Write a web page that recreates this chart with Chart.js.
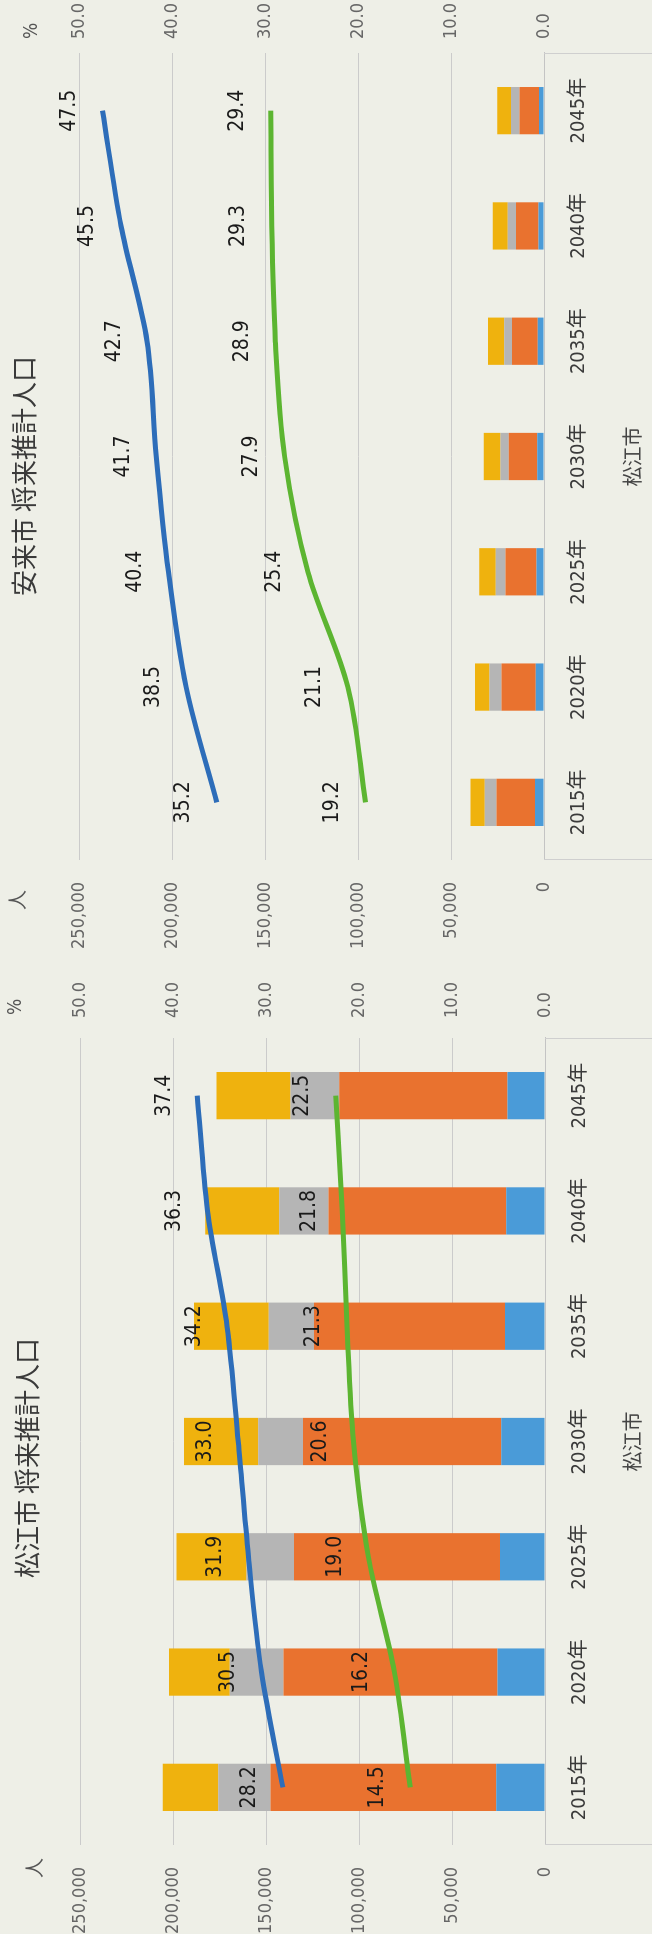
<!DOCTYPE html>
<html lang="ja">
<head>
<meta charset="utf-8">
<title>将来推計人口</title>
<script src="https://cdn.jsdelivr.net/npm/chart.js@4.4.1/dist/chart.umd.min.js"></script>
<style>
  html, body { margin: 0; padding: 0; background: #eeefe7; }
  body { width: 652px; height: 1934px; position: relative; overflow: hidden; }
  /* each chart is drawn landscape and turned a quarter to the left, like the scan */
  .panel { position: absolute; left: -158px; width: 968px; height: 652px; transform: rotate(-90deg); transform-origin: 50% 50%; }
  #panelYasugi { top: 158px; }
  #panelMatsue { top: 1125px; }
</style>
</head>
<body>
<div class="panel" id="panelYasugi"><canvas id="yasugiChart" width="968" height="652"></canvas></div>
<div class="panel" id="panelMatsue"><canvas id="matsueChart" width="968" height="652"></canvas></div>
<script>
// Categories
const years = ['2015年', '2020年', '2025年', '2030年', '2035年', '2040年', '2045年'];

// 安来市 (people)
const yasugiUnder15 = [4800, 4400, 4000, 3600, 3300, 3000, 2700];
const yasugi15to64 = [20800, 18400, 16700, 15300, 13900, 12000, 10500];
const yasugi65to74 = [6300, 6500, 5300, 4500, 4200, 4500, 4600];
const yasugi75over = [7600, 7800, 8800, 9000, 8700, 8100, 7400];
// 安来市 (%)
const yasugiRate65 = [35.2, 38.5, 40.4, 41.7, 42.7, 45.5, 47.5];
const yasugiRate75 = [19.2, 21.1, 25.4, 27.9, 28.9, 29.3, 29.4];

// 松江市 (people)
const matsueUnder15 = [26200, 25500, 24200, 23500, 21500, 20800, 20200];
const matsue15to64 = [121400, 115100, 110800, 106600, 102700, 95600, 90400];
const matsue65to74 = [28200, 28900, 25500, 24100, 24400, 26500, 26300];
const matsue75over = [29800, 32800, 37700, 40000, 40200, 39900, 39800];
// 松江市 (%)
const matsueRate65 = [28.2, 30.5, 31.9, 33.0, 34.2, 36.3, 37.4];
const matsueRate75 = [14.5, 16.2, 19.0, 20.6, 21.3, 21.8, 22.5];

// Axis ticks
const peopleMax = 250000;
const peopleStep = 50000;
const rateMax = 50;
const rateStep = 10;

const NARROW = "'DejaVu Sans Condensed', 'Liberation Sans', 'Noto Sans CJK JP', sans-serif";
const CJK = "'Noto Sans CJK JP', sans-serif";

Chart.defaults.font.family = NARROW;
Chart.defaults.animation = false;

// values over the line points
const lineLabels = {
    id: 'lineLabels',
    afterDatasetsDraw(chart) {
        const ctx = chart.ctx;
        ctx.save();
        ctx.font = '21px ' + NARROW;
        ctx.fillStyle = '#1a1a1a';
        ctx.textAlign = 'center';
        ctx.textBaseline = 'middle';
        chart.data.datasets.forEach((ds, i) => {
            if (ds.type !== 'line') return;
            chart.getDatasetMeta(i).data.forEach((pt, j) => {
                ctx.fillText(ds.data[j].toFixed(1), pt.x, pt.y - 33);
            });
        });
        ctx.restore();
    }
};

// unit marks over the two value axes, and the frame round the category labels
const chartFrame = {
    id: 'chartFrame',
    afterDraw(chart, args, opts) {
        const ctx = chart.ctx;
        const a = chart.chartArea;
        ctx.save();
        ctx.strokeStyle = '#cfcfcf';
        ctx.lineWidth = 1;
        ctx.beginPath();
        ctx.moveTo(a.left + 0.5, a.bottom);
        ctx.lineTo(a.left + 0.5, chart.height);
        ctx.moveTo(a.right - 0.5, a.bottom);
        ctx.lineTo(a.right - 0.5, chart.height);
        ctx.stroke();
        ctx.fillStyle = '#555555';
        ctx.textAlign = 'center';
        ctx.textBaseline = 'middle';
        ctx.font = '20px ' + CJK;
        ctx.fillText('人', a.left + opts.peopleDx, a.top + opts.peopleDy);
        ctx.font = '19px ' + NARROW;
        ctx.fillText('%', a.right + opts.rateDx, a.top + opts.rateDy);
        ctx.restore();
    }
};

function makeChart(id, title, under15, age15to64, age65to74, age75over, rate65, rate75, L) {
    return new Chart(document.getElementById(id), {
        type: 'bar',
        data: {
            labels: years,
            datasets: [
                { type: 'line', label: '65歳以上割合', data: rate65, yAxisID: 'y2', order: 0,
                  borderColor: '#2d6db9', borderWidth: 5, pointRadius: 0,
                  cubicInterpolationMode: 'monotone', fill: false },
                { type: 'line', label: '75歳以上割合', data: rate75, yAxisID: 'y2', order: 0,
                  borderColor: '#5cb531', borderWidth: 5, pointRadius: 0,
                  cubicInterpolationMode: 'monotone', fill: false },
                { label: '0～14歳', data: under15, backgroundColor: '#4a9bd8', order: 1 },
                { label: '15～64歳', data: age15to64, backgroundColor: '#e9722f', order: 1 },
                { label: '65～74歳', data: age65to74, backgroundColor: '#b5b5b5', order: 1 },
                { label: '75歳以上', data: age75over, backgroundColor: '#efb20e', order: 1 }
            ]
        },
        options: {
            responsive: false,
            layout: { padding: { left: L.padLeft, right: L.padRight, top: 0, bottom: 0 } },
            datasets: { bar: { barPercentage: 0.41, categoryPercentage: 1.0 } },
            plugins: {
                legend: { display: false },
                tooltip: { enabled: false },
                title: {
                    display: true, text: title, color: '#3a3a3a',
                    font: { family: CJK, size: 26, weight: 'normal' },
                    padding: { top: L.titleTop, bottom: L.titleBottom }
                },
                chartFrame: L.units
            },
            scales: {
                x: {
                    stacked: true,
                    grid: { display: false, drawTicks: false },
                    border: { display: true, color: '#c4c4c4', width: 1 },
                    ticks: { color: '#3a3a3a', font: { size: 20 }, padding: 23 },
                    title: { display: true, text: '松江市', color: '#444444',
                             font: { family: CJK, size: 20 }, padding: { top: 0, bottom: 8 } },
                    afterFit: s => { s.height = L.xHeight; }
                },
                y: {
                    stacked: true, min: 0, max: peopleMax,
                    grid: { color: '#cbcbcb', lineWidth: 1, drawTicks: false },
                    border: { display: false },
                    ticks: { stepSize: peopleStep, padding: 22, color: '#666666', font: { size: 18 },
                             callback: v => v.toLocaleString('en-US') },
                    afterFit: s => { s.width = L.yWidth; }
                },
                y2: {
                    position: 'right', min: 0, max: rateMax,
                    grid: { display: false, drawTicks: false },
                    border: { display: false },
                    ticks: { stepSize: rateStep, padding: L.y2Pad, color: '#666666', font: { size: 18 },
                             callback: v => v.toFixed(1) },
                    afterFit: s => { s.width = L.y2Width; }
                }
            }
        },
        plugins: [lineLabels, chartFrame]
    });
}

makeChart('yasugiChart', '安来市 将来推計人口',
    yasugiUnder15, yasugi15to64, yasugi65to74, yasugi75over, yasugiRate65, yasugiRate75,
    { padLeft: 16, padRight: 0, yWidth: 92, y2Width: 53, y2Pad: 14, xHeight: 108,
      titleTop: 9, titleBottom: 39,
      units: { peopleDx: -40, peopleDy: -62, rateDx: 22, rateDy: -47 } });

makeChart('matsueChart', '松江市 将来推計人口',
    matsueUnder15, matsue15to64, matsue65to74, matsue75over, matsueRate65, matsueRate75,
    { padLeft: 0, padRight: 14, yWidth: 90, y2Width: 57, y2Pad: 20, xHeight: 107,
      titleTop: 12, titleBottom: 37,
      units: { peopleDx: -23, peopleDy: -46, rateDx: 31, rateDy: -64 } });
</script>
</body>
</html>
